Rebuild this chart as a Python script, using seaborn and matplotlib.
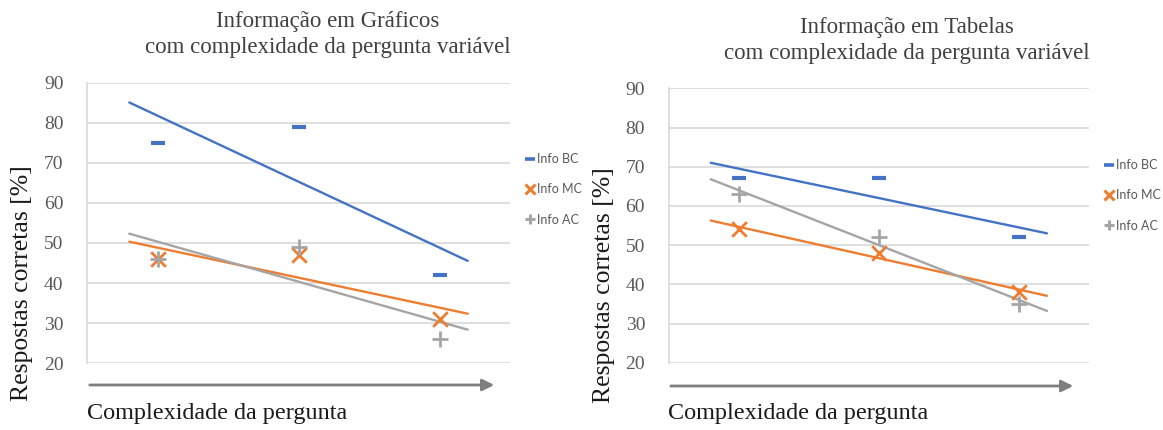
import numpy as np
import pandas as pd
import matplotlib
matplotlib.use("Agg")
import matplotlib.pyplot as plt
import seaborn as sns
from matplotlib.lines import Line2D

sns.set_theme(style="white")
plt.rcParams["font.family"] = ["Liberation Serif", "DejaVu Serif"]

# Question complexity levels (low -> high)
levels = [1, 2, 3]
series_names = ["Info BC", "Info MC", "Info AC"]

# Percentage of correct answers, information shown in charts
graficos_bc = [75, 79, 42]
graficos_mc = [46, 47, 31]
graficos_ac = [46, 49, 26]

# Percentage of correct answers, information shown in tables
tabelas_bc = [67, 67, 52]
tabelas_mc = [54, 48, 38]
tabelas_ac = [63, 52, 35]

yticks = [20, 30, 40, 50, 60, 70, 80, 90]

colors = {"Info BC": "#4472C4", "Info MC": "#ED7D31", "Info AC": "#A5A5A5"}
markers = {"Info BC": "_", "Info MC": "x", "Info AC": "+"}
msizes = {"Info BC": 100, "Info MC": 110, "Info AC": 130}
mwidths = {"Info BC": 3.0, "Info MC": 2.0, "Info AC": 2.0}

W, H = 1163, 430


def fx(px):
    return px / W


def fy(py):
    return 1 - py / H


def make_frame(bc, mc, ac):
    rows = []
    for name, vals in zip(series_names, [bc, mc, ac]):
        for x, v in zip(levels, vals):
            rows.append({"nivel": x, "serie": name, "valor": v})
    return pd.DataFrame(rows)


def draw_panel(fig, rect, df, title_lines, title_x, title_y, ylabel_xy,
               arrow_y, arrow_x, legend_xy):
    ax = fig.add_axes(rect)
    # linear trend lines, extended 0.2 units on each side
    xs = np.linspace(levels[0] - 0.2, levels[-1] + 0.2, 50)
    for name in series_names:
        sub = df[df["serie"] == name]
        slope, icpt = np.polyfit(sub["nivel"], sub["valor"], 1)
        trend = pd.DataFrame({"nivel": xs, "valor": slope * xs + icpt})
        sns.lineplot(data=trend, x="nivel", y="valor", ax=ax, color=colors[name],
                     linewidth=1.7, zorder=3)
    for name in series_names:
        sub = df[df["serie"] == name]
        sns.scatterplot(data=sub, x="nivel", y="valor", ax=ax, marker=markers[name],
                        s=msizes[name], color=colors[name], linewidth=mwidths[name],
                        zorder=4, legend=False)

    ax.set_xlim(0.5, 3.5)
    ax.set_ylim(20, 90)
    ax.set_yticks(yticks)
    ax.set_yticklabels([str(t) for t in yticks], fontsize=14, color="#595959")
    ax.set_xticks([])
    ax.set_xlabel("")
    ax.set_ylabel("")
    ax.grid(axis="y", color="#d9d9d9", linewidth=1.2)
    ax.set_axisbelow(True)
    for side in ["top", "right", "bottom"]:
        ax.spines[side].set_visible(False)
    ax.spines["left"].set_color("#d9d9d9")
    ax.spines["left"].set_linewidth(1.2)
    ax.tick_params(axis="y", length=0, pad=17)

    for line, ty in zip(title_lines, title_y):
        fig.text(fx(title_x), fy(ty), line, ha="center", va="center", fontsize=16.5,
                 color="#404040")
    fig.text(fx(ylabel_xy[0]), fy(ylabel_xy[1]), "Respostas corretas [%]", rotation=90,
             ha="center", va="center", fontsize=18.5, color="#1a1a1a")

    # question-complexity arrow below the plot
    fig.add_artist(matplotlib.patches.FancyArrowPatch(
        (fx(arrow_x[0]), fy(arrow_y)), (fx(arrow_x[1]), fy(arrow_y)),
        transform=fig.transFigure,
        arrowstyle="-|>,head_length=7,head_width=3.5", color="#7f7f7f", linewidth=2,
        mutation_scale=1))
    fig.text(fx(arrow_x[0]), fy(arrow_y + 28), "Complexidade da pergunta", ha="left",
             va="center", fontsize=17.4, color="#1a1a1a")

    handles = [Line2D([], [], linestyle="none", marker=markers[n], color=colors[n],
                      markersize=7, markeredgewidth=2.2 if n != "Info BC" else 2.6)
               for n in series_names]
    fig.legend(handles, series_names, loc="upper left",
               bbox_to_anchor=(fx(legend_xy[0]), fy(legend_xy[1])),
               frameon=False, handlelength=0.6, handletextpad=0.25, labelspacing=1.45,
               borderpad=0, prop={"family": "Lato", "size": 9}, labelcolor="#595959")
    return ax


fig = plt.figure(figsize=(W / 100, H / 100), dpi=100)

draw_panel(fig, [fx(87), fy(363), fx(510 - 87), (363 - 83) / H],
           make_frame(graficos_bc, graficos_mc, graficos_ac),
           ["Informação em Gráficos", "com complexidade da pergunta variável"],
           328, [21, 47], (22, 283), 385, (87, 497), (520, 147))
draw_panel(fig, [fx(668.7), fy(362.7), fx(1089 - 668.7), (362.7 - 88.3) / H],
           make_frame(tabelas_bc, tabelas_mc, tabelas_ac),
           ["Informação em Tabelas", "com complexidade da pergunta variável"],
           907, [27, 53], (604, 285), 386, (668, 1076), (1099, 153))

fig.savefig("out.png", dpi=100)
